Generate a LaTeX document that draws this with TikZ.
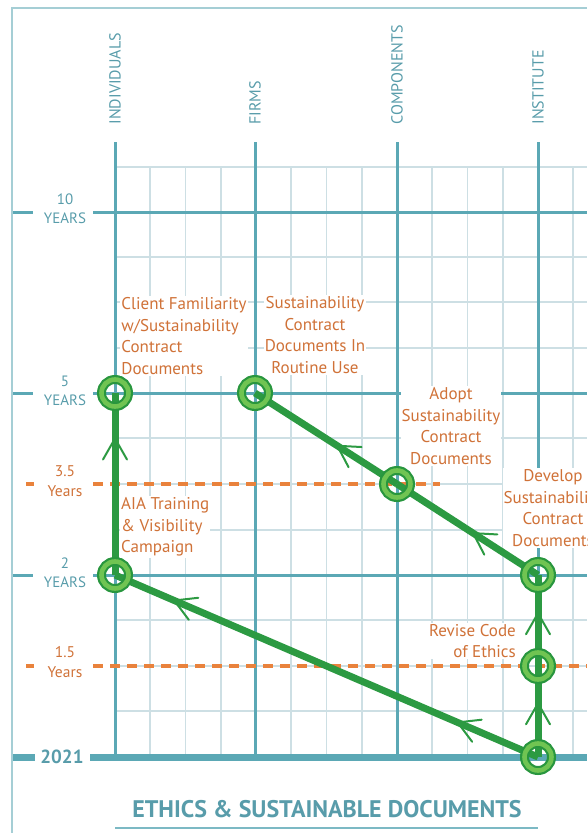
\documentclass[tikz,border=0pt]{standalone}
\usepackage{fontspec}
\setmainfont{PT Sans}
\usepackage{tikz}
\usetikzlibrary{decorations.markings}
\usepackage{xcolor}
\definecolor{gridteal}{RGB}{91,168,181}
\definecolor{gridminor}{RGB}{205,223,228}
\definecolor{framecol}{RGB}{165,206,213}
\definecolor{axisteal}{RGB}{88,156,170}
\definecolor{dashorange}{RGB}{233,130,60}
\definecolor{noteorange}{RGB}{208,114,56}
\definecolor{gdark}{RGB}{40,150,62}
\definecolor{glight}{RGB}{112,196,82}
\definecolor{groute}{RGB}{44,154,66}
\pgfdeclarelayer{gridlayer}
\pgfdeclarelayer{pathlayer}
\pgfsetlayers{gridlayer,pathlayer,main}
\newcommand{\routetip}{\draw[groute, line width=2pt, line cap=round] (-21pt,12pt) -- (0pt,0pt) -- (-21pt,-12pt);}
\tikzset{%
	major line/.style={draw=gridteal, line width=3pt},
	minor line/.style={draw=gridminor, line width=1.8pt},
	year line/.style={draw=dashorange, line width=3.6pt, dash pattern=on 10pt off 7pt},
	milestone/.style={
		circle,
		draw=gdark,
		double=glight,
		double distance=4.6pt,
		line width=2.2pt,
		minimum size=27pt,
		inner sep=0pt
	},
	route/.style={draw=groute, line width=7pt, postaction={decorate}},
	note/.style={
		fill=white,
		inner sep=1pt,
		text=noteorange,
		font=\fontsize{17}{21.7}\selectfont
	},
	axis text/.style={text=axisteal, align=center, font=\fontsize{15}{19}\selectfont},
	year text/.style={text=noteorange, align=center, font=\fontsize{15.5}{20}\selectfont},
	column text/.style={text=axisteal, rotate=90, anchor=west, font=\fontsize{16}{19}\selectfont},
}
\begin{document}
\begin{tikzpicture}[x=1pt, y=-1pt]
	\useasboundingbox (0,0) rectangle (587,833);
	
	% Frame
	\draw[draw=framecol, line width=2pt] (12,833) -- (12,8) -- (587,8);
	
	\begin{pgfonlayer}{gridlayer}
		% Minor grid
		\foreach \k in {1,2,3,5,6,7,9,10,11,13}
			\draw[minor line] ({115+35.25*\k},167) -- ({115+35.25*\k},757);
		\foreach \y in {167,257,302,348,438,484,530,620,666,711}
			\draw[minor line] (115,\y) -- (587,\y);
		
		% Major grid
		\foreach \x in {115,255,397,538}
			\draw[major line] (\x,142) -- (\x,757);
		\foreach \y in {212,393,575}
			\draw[major line] (12,\y) -- (33,\y) (93,\y) -- (587,\y);
		\draw[major line, line width=7pt] (12,757) -- (35,757) (90,757) -- (587,757);
		
		% Year marks
		\draw[year line] (26,484) -- (34,484) (93,484) -- (440,484);
		\draw[year line] (26,666) -- (34,666) (93,666) -- (587,666);
	\end{pgfonlayer}
	
	% Column heads
	\node[column text] (individuals) at (115,128) {INDIVIDUALS};
	\node[column text] (firms) at (255,128) {FIRMS};
	\node[column text] (components) at (397,128) {COMPONENTS};
	\node[column text] (institute) at (538,128) {INSTITUTE};
	
	% Time axis
	\node[axis text] (ten) at (65,209) {10\\YEARS};
	\node[axis text] (five) at (65,391) {5\\YEARS};
	\node[year text] (threehalf) at (65,481) {3.5\\Years};
	\node[axis text] (two) at (65,573) {2\\YEARS};
	\node[year text] (onehalf) at (65,662) {1.5\\Years};
	\node[text=axisteal, font=\bfseries\fontsize{19}{22}\selectfont] (now) at (62,757) {2021};
	
	% Milestones
	\node[milestone] (start) at (538,757) {};
	\node[milestone] (revise) at (538,666) {};
	\node[milestone] (develop) at (538,575) {};
	\node[milestone] (adopt) at (397,484) {};
	\node[milestone] (routine) at (255,393) {};
	\node[milestone] (training) at (115,575) {};
	\node[milestone] (familiar) at (115,393) {};
	
	% Routes
	\begin{pgfonlayer}{pathlayer}
		\draw[route, decoration={markings, mark=at position 0.59 with {\routetip}}] (start.center) -- (revise.center);
		\draw[route, decoration={markings, mark=at position 0.58 with {\routetip}}] (revise.center) -- (develop.center);
		\draw[route, decoration={markings, mark=at position 0.46 with {\routetip}}] (develop.center) -- (adopt.center);
		\draw[route, decoration={markings, mark=at position 0.42 with {\routetip}}] (adopt.center) -- (routine.center);
		\draw[route, decoration={markings, mark=at position 0.19 with {\routetip}, mark=at position 0.86 with {\routetip}}] (start.center) -- (training.center);
		\draw[route, decoration={markings, mark=at position 0.75 with {\routetip}}] (training.center) -- (familiar.center);
	\end{pgfonlayer}
	
	% Notes
	\node[note, align=left] (familiar note) at (184,336) {Client Familiarity\\w/Sustainability\\Contract\\Documents};
	\node[note, align=center] (routine note) at (315,335) {Sustainability\\Contract\\Documents In\\Routine Use};
	\node[note, align=center] (adopt note) at (451,426) {Adopt\\Sustainability\\Contract\\Documents};
	\node[note, align=center] (develop note) at (553,508) {Develop\\Sustainability\\Contract\\Documents};
	\node[note, align=right, anchor=east] (revise note) at (517,641) {Revise Code\\of Ethics};
	\node[note, align=left, anchor=west] (training note) at (120,527) {AIA Training\\\& Visibility\\Campaign};
	
	% Title
	\node[text=axisteal, font=\bfseries\fontsize{24}{28}\selectfont] (title) at (327,809) {ETHICS \& SUSTAINABLE DOCUMENTS};
	\draw[draw=gridteal!80, line width=1.5pt] (115,828) -- (538,828);
\end{tikzpicture}
\end{document}
